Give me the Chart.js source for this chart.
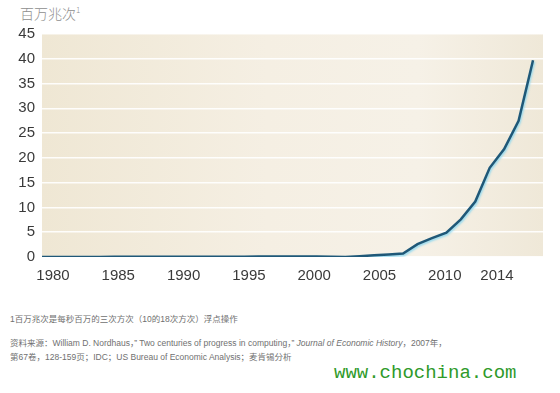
<!DOCTYPE html>
<html>
<head>
<meta charset="utf-8">
<script src="https://cdn.jsdelivr.net/npm/chart.js@4.4.1/dist/chart.umd.min.js"></script>
<style>
  body { margin: 0; background: #fff; width: 560px; height: 393px; overflow: hidden; position: relative; font-family: "Liberation Sans", Arial, sans-serif; }
  #wrap { position: absolute; left: 0; top: 0; width: 560px; height: 280px; }
  .unit { position: absolute; left: 20px; top: 3px; font: 300 14px "Noto Sans CJK SC", sans-serif; color: #8e8e8e; }
  .unit sup { font-size: 8px; }
  .note { position: absolute; left: 10px; font: 8.5px "Liberation Sans", "Noto Sans CJK SC", sans-serif; color: #707070; white-space: nowrap; }
  .mark { position: absolute; left: 334px; top: 362px; font: 19px "Liberation Mono", monospace; color: #2f9a2a; }
</style>
</head>
<body>
<div class="unit">百万兆次<sup>1</sup></div>
<div id="wrap"><canvas id="chart" width="560" height="280"></canvas></div>
<div class="note" style="top:312px">1百万兆次是每秒百万的三次方次（10的18次方次）浮点操作</div>
<div class="note" style="top:336px">资料来源：William D. Nordhaus，” Two centuries of progress in computing，” <i>Journal of Economic History</i>，2007年，</div>
<div class="note" style="top:350px">第67卷，128-159页；IDC；US Bureau of Economic Analysis；麦肯锡分析</div>
<div class="mark">www.chochina.com</div>

<script>
// data
const years = [1980, 1981, 1982, 1983, 1984, 1985, 1986, 1987, 1988, 1989,
               1990, 1991, 1992, 1993, 1994, 1995, 1996, 1997, 1998, 1999,
               2000, 2001, 2002, 2003, 2004, 2005, 2006, 2007, 2008, 2009,
               2010, 2011, 2012, 2013, 2014];
const exaflops = [0.02, 0.02, 0.02, 0.02, 0.02, 0.03, 0.03, 0.03, 0.04, 0.04,
                  0.05, 0.05, 0.06, 0.06, 0.07, 0.08, 0.08, 0.09, 0.1, 0.1,
                  0.05, 0.0, 0.15, 0.35, 0.5, 0.7, 2.6, 3.8, 4.9, 7.6,
                  11.2, 18.0, 21.8, 27.5, 39.7];
const xTickLabels = [1980, 1985, 1990, 1995, 2000, 2005, 2010, 2014];
const yTicks = [0, 5, 10, 15, 20, 25, 30, 35, 40, 45];

const points = years.map((y, i) => ({ x: y, y: exaflops[i] }));

// beige plot background with a lighter middle
const bgPlugin = {
    id: 'bg',
    beforeDraw(chart) {
        const { ctx, chartArea: a } = chart;
        const g = ctx.createLinearGradient(a.left, 0, a.right, 0);
        g.addColorStop(0, '#efe7d4');
        g.addColorStop(0.45, '#f5efe3');
        g.addColorStop(0.75, '#f6f1e7');
        g.addColorStop(1, '#efe8d8');
        ctx.save();
        ctx.fillStyle = g;
        ctx.fillRect(a.left, a.top, a.right - a.left, a.bottom - a.top);
        ctx.restore();
    }
};

// light cyan glow under the line
const glowPlugin = {
    id: 'glow',
    beforeDatasetDraw(chart) {
        const ctx = chart.ctx;
        ctx.save();
        ctx.shadowColor = 'rgba(140, 215, 240, 0.9)';
        ctx.shadowBlur = 2;
        ctx.shadowOffsetX = 1;
        ctx.shadowOffsetY = 1.5;
    },
    afterDatasetDraw(chart) {
        chart.ctx.restore();
    }
};

new Chart(document.getElementById('chart'), {
    type: 'line',
    data: {
        datasets: [{
            data: points,
            borderColor: '#1f5878',
            borderWidth: 2.5,
            pointRadius: 0,
            tension: 0,
            xAxisID: 'x'
        }]
    },
    options: {
        responsive: false,
        animation: false,
        layout: { padding: { top: 34, right: 17, left: 0, bottom: 0 } },
        plugins: { legend: { display: false }, tooltip: { enabled: false } },
        scales: {
            x: {
                type: 'linear',
                min: 1980,
                max: 2014.69,
                display: false
            },
            xl: {
                type: 'linear',
                position: 'bottom',
                min: 1979.16,
                max: 2017.52,
                afterBuildTicks: (s) => { s.ticks = xTickLabels.map(v => ({ value: v })); },
                afterFit: (s) => { s.height = 23; },
                grid: { display: false },
                border: { display: false },
                ticks: {
                    autoSkip: false,
                    maxRotation: 0,
                    padding: 2,
                    color: '#3a3a3a',
                    font: { family: 'Liberation Sans', size: 15 },
                    callback: (v) => String(v)
                }
            },
            y: {
                min: 0,
                max: 45,
                afterBuildTicks: (s) => { s.ticks = yTicks.map(v => ({ value: v })); },
                afterFit: (s) => { s.width = 42; },
                grid: { color: 'rgba(255,255,255,0.9)', lineWidth: 1.5, drawTicks: false },
                border: { display: false },
                ticks: {
                    padding: 7,
                    color: '#3a3a3a',
                    font: { family: 'Liberation Sans', size: 15 }
                }
            }
        }
    },
    plugins: [bgPlugin, glowPlugin]
});
</script>
</body>
</html>
